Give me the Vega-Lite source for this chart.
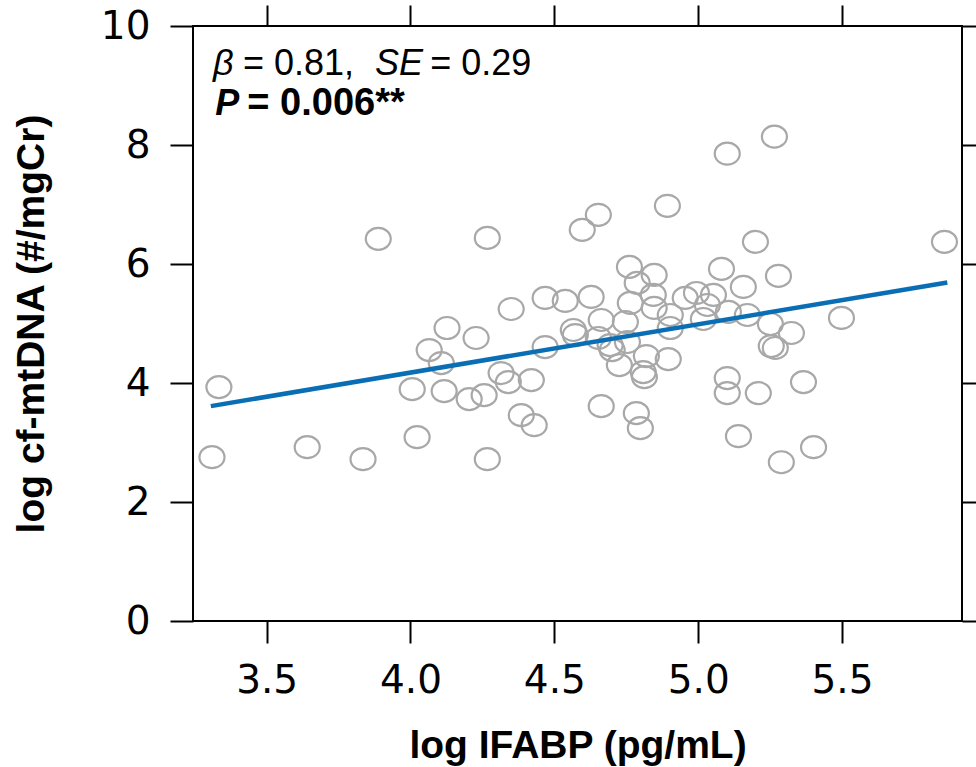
{
  "$schema": "https://vega.github.io/schema/vega-lite/v6.json",
  "autosize": {"type": "none"},
  "padding": {"left": 193, "top": 26, "right": 14, "bottom": 146},
  "width": 769,
  "height": 595,
  "background": "white",
  "config": {
    "view": {"stroke": "black", "strokeWidth": 2},
    "axis": {"domain": false, "grid": false, "tickColor": "black", "tickWidth": 2, "labelFlush": false, "labelOverlap": false}
  },
  "datasets": {
    "points": [
      {"ifabp": 3.310, "mtdna": 2.753},
      {"ifabp": 3.334, "mtdna": 3.931},
      {"ifabp": 3.641, "mtdna": 2.921},
      {"ifabp": 3.835, "mtdna": 2.719},
      {"ifabp": 3.888, "mtdna": 6.423},
      {"ifabp": 4.006, "mtdna": 3.897},
      {"ifabp": 4.023, "mtdna": 3.089},
      {"ifabp": 4.065, "mtdna": 4.554},
      {"ifabp": 4.107, "mtdna": 4.335},
      {"ifabp": 4.117, "mtdna": 3.864},
      {"ifabp": 4.127, "mtdna": 4.924},
      {"ifabp": 4.204, "mtdna": 3.729},
      {"ifabp": 4.228, "mtdna": 4.756},
      {"ifabp": 4.256, "mtdna": 3.796},
      {"ifabp": 4.267, "mtdna": 6.439},
      {"ifabp": 4.267, "mtdna": 2.719},
      {"ifabp": 4.315, "mtdna": 4.167},
      {"ifabp": 4.340, "mtdna": 4.015},
      {"ifabp": 4.350, "mtdna": 5.244},
      {"ifabp": 4.385, "mtdna": 3.460},
      {"ifabp": 4.420, "mtdna": 4.049},
      {"ifabp": 4.430, "mtdna": 3.291},
      {"ifabp": 4.468, "mtdna": 5.429},
      {"ifabp": 4.468, "mtdna": 4.604},
      {"ifabp": 4.538, "mtdna": 5.379},
      {"ifabp": 4.566, "mtdna": 4.891},
      {"ifabp": 4.573, "mtdna": 4.806},
      {"ifabp": 4.597, "mtdna": 6.574},
      {"ifabp": 4.628, "mtdna": 5.446},
      {"ifabp": 4.653, "mtdna": 6.827},
      {"ifabp": 4.663, "mtdna": 5.059},
      {"ifabp": 4.653, "mtdna": 4.756},
      {"ifabp": 4.663, "mtdna": 3.611},
      {"ifabp": 4.694, "mtdna": 4.638},
      {"ifabp": 4.701, "mtdna": 4.554},
      {"ifabp": 4.726, "mtdna": 4.301},
      {"ifabp": 4.747, "mtdna": 5.025},
      {"ifabp": 4.754, "mtdna": 4.689},
      {"ifabp": 4.761, "mtdna": 5.951},
      {"ifabp": 4.764, "mtdna": 5.345},
      {"ifabp": 4.788, "mtdna": 5.682},
      {"ifabp": 4.785, "mtdna": 3.493},
      {"ifabp": 4.799, "mtdna": 3.241},
      {"ifabp": 4.809, "mtdna": 4.184},
      {"ifabp": 4.813, "mtdna": 4.099},
      {"ifabp": 4.820, "mtdna": 4.453},
      {"ifabp": 4.844, "mtdna": 5.480},
      {"ifabp": 4.847, "mtdna": 5.261},
      {"ifabp": 4.847, "mtdna": 5.817},
      {"ifabp": 4.893, "mtdna": 6.978},
      {"ifabp": 4.896, "mtdna": 4.402},
      {"ifabp": 4.903, "mtdna": 5.143},
      {"ifabp": 4.903, "mtdna": 4.924},
      {"ifabp": 4.955, "mtdna": 5.429},
      {"ifabp": 4.994, "mtdna": 5.513},
      {"ifabp": 5.018, "mtdna": 5.076},
      {"ifabp": 5.032, "mtdna": 5.311},
      {"ifabp": 5.053, "mtdna": 5.480},
      {"ifabp": 5.081, "mtdna": 5.918},
      {"ifabp": 5.101, "mtdna": 7.854},
      {"ifabp": 5.101, "mtdna": 4.083},
      {"ifabp": 5.101, "mtdna": 3.830},
      {"ifabp": 5.105, "mtdna": 5.194},
      {"ifabp": 5.140, "mtdna": 3.106},
      {"ifabp": 5.157, "mtdna": 5.614},
      {"ifabp": 5.171, "mtdna": 5.143},
      {"ifabp": 5.199, "mtdna": 6.372},
      {"ifabp": 5.209, "mtdna": 3.830},
      {"ifabp": 5.251, "mtdna": 4.992},
      {"ifabp": 5.254, "mtdna": 4.621},
      {"ifabp": 5.268, "mtdna": 4.588},
      {"ifabp": 5.265, "mtdna": 8.140},
      {"ifabp": 5.279, "mtdna": 5.800},
      {"ifabp": 5.289, "mtdna": 2.668},
      {"ifabp": 5.324, "mtdna": 4.840},
      {"ifabp": 5.366, "mtdna": 4.015},
      {"ifabp": 5.401, "mtdna": 2.921},
      {"ifabp": 5.498, "mtdna": 5.093},
      {"ifabp": 5.856, "mtdna": 6.372}
    ],
    "fit": [
      {"ifabp": 3.306, "mtdna": 3.611},
      {"ifabp": 5.866, "mtdna": 5.690}
    ]
  },
  "layer": [
    {
      "data": {"name": "points"},
      "mark": {
        "type": "point",
        "shape": "M -1 0 A 1 0.88 0 1 1 1 0 A 1 0.88 0 1 1 -1 0 Z",
        "filled": false,
        "size": 625,
        "stroke": "#a8a8a8",
        "strokeWidth": 2.2,
        "opacity": 1
      },
      "encoding": {
        "x": {
          "field": "ifabp", "type": "quantitative",
          "scale": {"domain": [3.244, 5.917], "nice": false, "zero": false},
          "axis": {
            "orient": "bottom", "values": [3.5, 4, 4.5, 5, 5.5], "format": ".1f",
            "tickSize": 22, "labelFont": "DejaVu Sans", "labelFontSize": 39, "labelColor": "black", "labelPadding": 18,
            "title": "log IFABP (pg/mL)", "titleFont": "Liberation Sans", "titleFontSize": 39, "titleFontWeight": "bold",
            "titleColor": "black", "titleY": 136, "titleBaseline": "alphabetic"
          }
        },
        "y": {
          "field": "mtdna", "type": "quantitative",
          "scale": {"domain": [0, 10], "nice": false},
          "axis": {
            "orient": "left", "values": [0, 2, 4, 6, 8, 10],
            "tickSize": 23, "labelFont": "DejaVu Sans", "labelFontSize": 39, "labelColor": "black", "labelPadding": 20,
            "title": "log cf-mtDNA (#/mgCr)", "titleFont": "Liberation Sans", "titleFontSize": 39, "titleFontWeight": "bold",
            "titleColor": "black", "titleX": -150, "titleBaseline": "alphabetic"
          }
        }
      }
    },
    {
      "data": {"name": "fit"},
      "mark": {"type": "line", "color": "#0a6eb4", "strokeWidth": 4.5},
      "encoding": {
        "x": {"field": "ifabp", "type": "quantitative",
          "axis": {"orient": "top", "values": [3.5, 4, 4.5, 5, 5.5], "tickSize": 21, "labels": false, "title": null}},
        "y": {"field": "mtdna", "type": "quantitative",
          "axis": {"orient": "right", "values": [0, 2, 4, 6, 8, 10], "tickSize": 23, "labels": false, "title": null}}
      }
    },
    {
      "data": {"values": [{}]},
      "mark": {"type": "text", "text": "β", "font": "Liberation Sans", "fontSize": 36, "fontStyle": "italic", "align": "left", "baseline": "alphabetic", "color": "black"},
      "encoding": {"x": {"datum": 3.3136, "type": "quantitative", "axis": null}, "y": {"datum": 9.184, "type": "quantitative", "axis": null}}
    },
    {
      "data": {"values": [{}]},
      "mark": {"type": "text", "text": "= 0.81,", "font": "Liberation Sans", "fontSize": 36, "align": "left", "baseline": "alphabetic", "color": "black"},
      "encoding": {"x": {"datum": 3.4179, "type": "quantitative", "axis": null}, "y": {"datum": 9.184, "type": "quantitative", "axis": null}}
    },
    {
      "data": {"values": [{}]},
      "mark": {"type": "text", "text": "SE", "font": "Liberation Sans", "fontSize": 36, "fontStyle": "italic", "align": "left", "baseline": "alphabetic", "color": "black"},
      "encoding": {"x": {"datum": 3.877, "type": "quantitative", "axis": null}, "y": {"datum": 9.184, "type": "quantitative", "axis": null}}
    },
    {
      "data": {"values": [{}]},
      "mark": {"type": "text", "text": "= 0.29", "font": "Liberation Sans", "fontSize": 36, "align": "left", "baseline": "alphabetic", "color": "black"},
      "encoding": {"x": {"datum": 4.0683, "type": "quantitative", "axis": null}, "y": {"datum": 9.184, "type": "quantitative", "axis": null}}
    },
    {
      "data": {"values": [{}]},
      "mark": {"type": "text", "text": "P", "font": "Liberation Sans", "fontSize": 36, "fontStyle": "italic", "fontWeight": "bold", "align": "left", "baseline": "alphabetic", "color": "black"},
      "encoding": {"x": {"datum": 3.321, "type": "quantitative", "axis": null}, "y": {"datum": 8.51, "type": "quantitative", "axis": null}}
    },
    {
      "data": {"values": [{}]},
      "mark": {"type": "text", "text": "= 0.006**", "font": "Liberation Sans", "fontSize": 38, "fontWeight": "bold", "align": "left", "baseline": "alphabetic", "color": "black"},
      "encoding": {"x": {"datum": 3.433, "type": "quantitative", "axis": null}, "y": {"datum": 8.51, "type": "quantitative", "axis": null}}
    }
  ],
  "resolve": {"axis": {"x": "independent", "y": "independent"}}
}
